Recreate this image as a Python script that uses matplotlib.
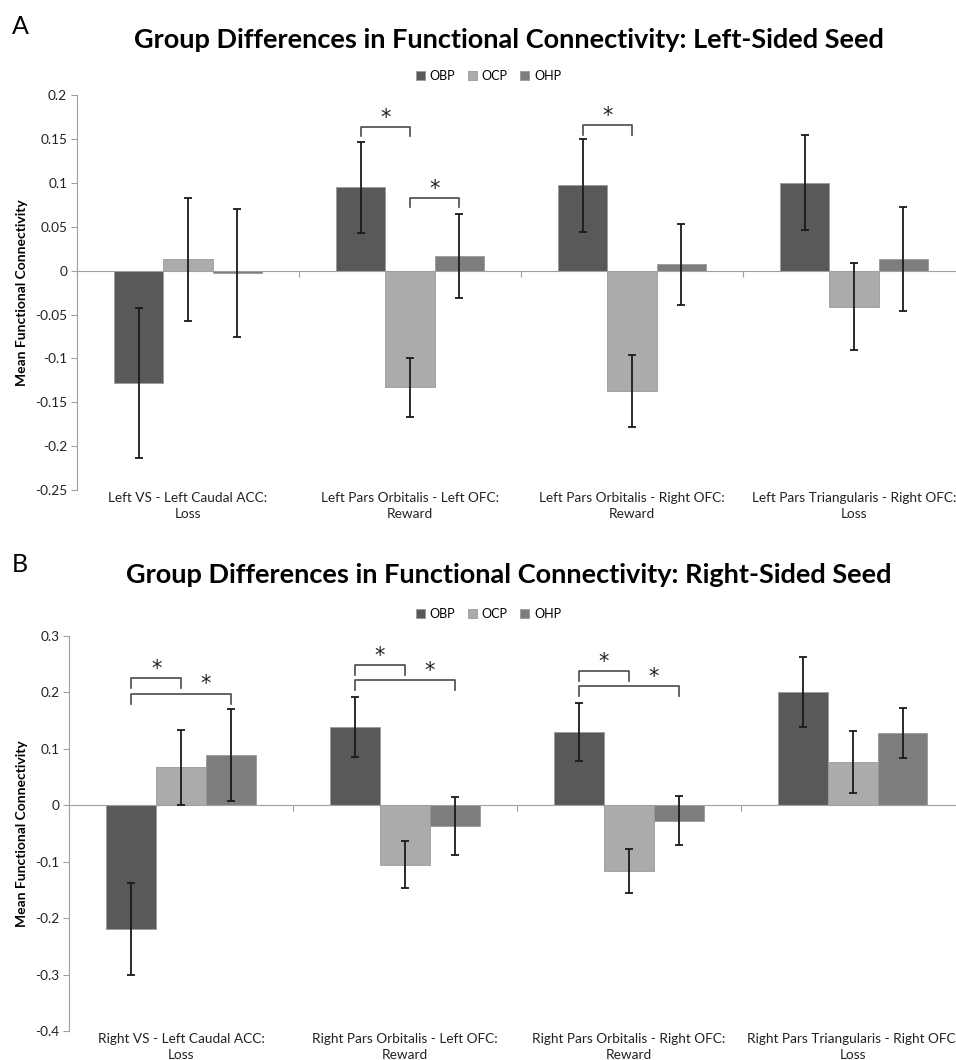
import numpy as np
import matplotlib.pyplot as plt
from matplotlib.ticker import FixedLocator

plt.rcParams['font.family'] = ['Lato', 'DejaVu Sans']

groups = ['OBP', 'OCP', 'OHP']
colors = ['#595959', '#ababab', '#7d7d7d']

# panel A: left-sided seed
cats_a = ['Left VS - Left Caudal ACC:\nLoss',
          'Left Pars Orbitalis - Left OFC:\nReward',
          'Left Pars Orbitalis - Right OFC:\nReward',
          'Left Pars Triangularis - Right OFC:\nLoss']
obp_a = [-0.128, 0.095, 0.097, 0.100]
ocp_a = [0.013, -0.133, -0.137, -0.041]
ohp_a = [-0.003, 0.017, 0.007, 0.013]
obp_a_err = [0.085, 0.052, 0.053, 0.054]
ocp_a_err = [0.070, 0.034, 0.041, 0.050]
ohp_a_err = [0.073, 0.048, 0.046, 0.059]
# (category, bar from, bar to, bracket level)
sig_a = [(1, 0, 1, 0.164), (1, 1, 2, 0.083), (2, 0, 1, 0.166)]
yticks_a = [0.2, 0.15, 0.1, 0.05, 0, -0.05, -0.1, -0.15, -0.2, -0.25]

# panel B: right-sided seed
cats_b = ['Right VS - Left Caudal ACC:\nLoss',
          'Right Pars Orbitalis - Left OFC:\nReward',
          'Right Pars Orbitalis - Right OFC:\nReward',
          'Right Pars Triangularis - Right OFC:\nLoss']
obp_b = [-0.219, 0.139, 0.130, 0.200]
ocp_b = [0.067, -0.105, -0.117, 0.076]
ohp_b = [0.089, -0.037, -0.027, 0.128]
obp_b_err = [0.081, 0.053, 0.052, 0.062]
ocp_b_err = [0.067, 0.042, 0.039, 0.055]
ohp_b_err = [0.082, 0.051, 0.044, 0.044]
sig_b = [(0, 0, 1, 0.225), (0, 0, 2, 0.198),
         (1, 0, 1, 0.248), (1, 0, 2, 0.222),
         (2, 0, 1, 0.238), (2, 0, 2, 0.211)]
yticks_b = [0.3, 0.2, 0.1, 0, -0.1, -0.2, -0.3, -0.4]


def draw_panel(ax, cats, series, errs, sig, yticks, tick_h):
    n = len(cats)
    x = np.arange(n)
    w = 1 / 4.5
    offs = [-w, 0, w]
    for vals, err, col, off, name in zip(series, errs, colors, offs, groups):
        ax.bar(x + off, vals, w, color=col, edgecolor='#9a9a9a', linewidth=0.6,
               label=name, zorder=2)
        ax.errorbar(x + off, vals, yerr=err, fmt='none', ecolor='#1a1a1a',
                    elinewidth=1.3, capsize=2.8, capthick=1.3, zorder=3)
    # significance brackets, star sits over the last pair of bars
    for c, i, j, lev in sig:
        x0, x1 = c + offs[i], c + offs[j]
        ax.plot([x0, x0, x1, x1], [lev - tick_h, lev, lev, lev - tick_h],
                color='#4a4a4a', lw=1.2, zorder=4)
        xs = c + (offs[j - 1] + offs[j]) / 2
        ax.text(xs, lev + tick_h * 0.9, '*', ha='center', va='center',
                fontsize=15, color='#222222', family='DejaVu Sans')
    ax.set_xlim(-0.5, n - 0.5)
    ax.set_ylim(yticks[-1], yticks[0])
    ax.yaxis.set_major_locator(FixedLocator(yticks))
    ax.set_yticklabels([f'{v:g}' for v in yticks])
    for s in ['top', 'right']:
        ax.spines[s].set_visible(False)
    ax.spines['left'].set_color('#a0a0a0')
    ax.spines['bottom'].set_position(('data', 0))
    ax.spines['bottom'].set_color('#a0a0a0')
    ax.set_xticks(np.arange(n + 1) - 0.5)
    ax.set_xticklabels([])
    ax.tick_params(axis='x', length=4, color='#a0a0a0', direction='out')
    ax.tick_params(axis='y', length=4, color='#a0a0a0', labelsize=9.8,
                   labelcolor='#222222', pad=3)
    for k, lab in enumerate(cats):
        ax.text(k, -0.006, lab, transform=ax.get_xaxis_transform(), ha='center',
                va='top', fontsize=9.8, color='#222222', linespacing=1.4,
                clip_on=False)
    ax.set_ylabel('Mean Functional Connectivity', fontsize=10, fontweight='bold',
                  labelpad=5)


fig = plt.figure(figsize=(9.56, 10.6), dpi=100)
ax_a = fig.add_axes([0.0805, 0.5377, 0.929, 0.3726])
ax_b = fig.add_axes([0.0722, 0.0274, 0.937, 0.3726])

draw_panel(ax_a, cats_a, [obp_a, ocp_a, ohp_a], [obp_a_err, ocp_a_err, ohp_a_err],
           sig_a, yticks_a, 0.011)
draw_panel(ax_b, cats_b, [obp_b, ocp_b, ohp_b], [obp_b_err, ocp_b_err, ohp_b_err],
           sig_b, yticks_b, 0.018)

for ax, ly in [(ax_a, 0.9285), (ax_b, 0.4208)]:
    h, l = ax.get_legend_handles_labels()
    fig.legend(h, l, loc='center', bbox_to_anchor=(0.511, ly), ncol=3,
               frameon=False, fontsize=9, handlelength=0.7, handleheight=0.7,
               handletextpad=0.4, columnspacing=1.0)

fig.text(0.532, 0.962, 'Group Differences in Functional Connectivity: Left-Sided Seed',
         ha='center', va='center', fontsize=19.5, fontweight='bold')
fig.text(0.532, 0.4575, 'Group Differences in Functional Connectivity: Right-Sided Seed',
         ha='center', va='center', fontsize=19.5, fontweight='bold')
fig.text(0.012, 0.975, 'A', fontsize=18, va='center')
fig.text(0.012, 0.467, 'B', fontsize=18, va='center')

fig.savefig('out.png', dpi=100)
